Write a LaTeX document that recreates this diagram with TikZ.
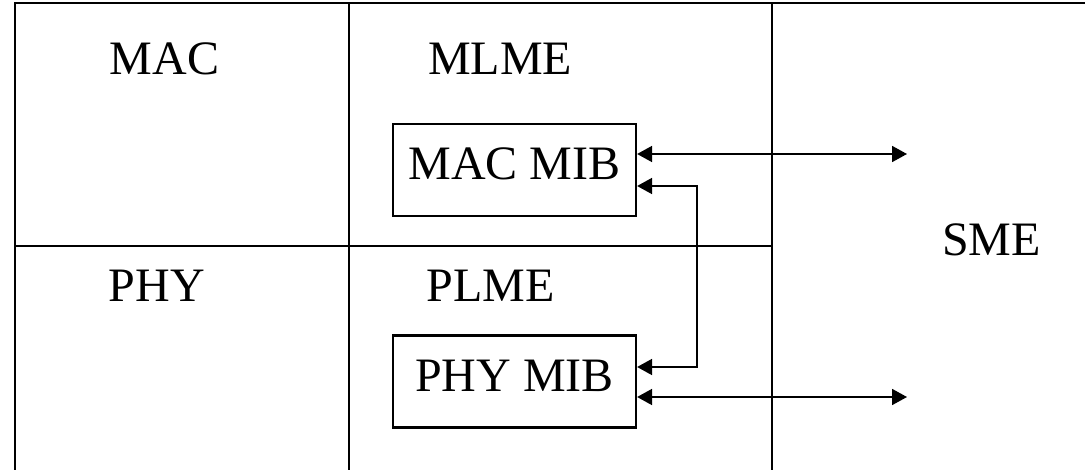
\documentclass[tikz,border=0pt]{standalone}
\usepackage{fontspec}
\setmainfont{Liberation Serif}
\usetikzlibrary{arrows.meta}

\begin{document}
\begin{tikzpicture}[
  x=0.5pt, y=-0.5pt,
  font=\fontsize{24}{28}\selectfont,
  frame/.style={draw=black, line width=1.2pt},
  lbl/.style={inner sep=0pt, anchor=base},
  mib/.style={draw=black, line width=1.1pt, minimum width=121.5pt, minimum height=46pt, inner sep=0pt, text depth=6pt},
  arr/.style={{Triangle[length=7.5pt,width=8pt]}-{Triangle[length=7.5pt,width=8pt]}, line width=0.9pt},
]
\useasboundingbox (0,0) rectangle (1085,470);
% layer grid
\draw[frame] (15,470) -- (15,3) -- (1085,3);
\draw[frame] (349,3) -- (349,470);
\draw[frame] (772,3) -- (772,470);
\draw[frame] (15,246) -- (772,246);
% texts
\node[lbl] (mac) at (164.5,75) {MAC};
\node[lbl] (mlme) at (500,75) {MLME};
\node[lbl] (phy) at (157,301) {PHY};
\node[lbl] (plme) at (490.5,301) {PLME};
\node[lbl] (sme) at (991.5,256) {SME};
% the two MIBs
\node[mib] (macmib) at (514.5,170) {MAC MIB};
\node[mib] (phymib) at (514.5,381.5) {PHY MIB};
% connectors
\coordinate (smeA) at (907,154);
\coordinate (smeB) at (907,397);
\coordinate (linkA) at (697,186);
\coordinate (linkB) at (697,367);
\draw[arr] (macmib.east |- smeA) -- (smeA);
\draw[arr] (phymib.east |- smeB) -- (smeB);
\draw[arr] (macmib.east |- linkA) -- (linkA) -- (linkB) -- (phymib.east |- linkB);
\end{tikzpicture}
\end{document}
